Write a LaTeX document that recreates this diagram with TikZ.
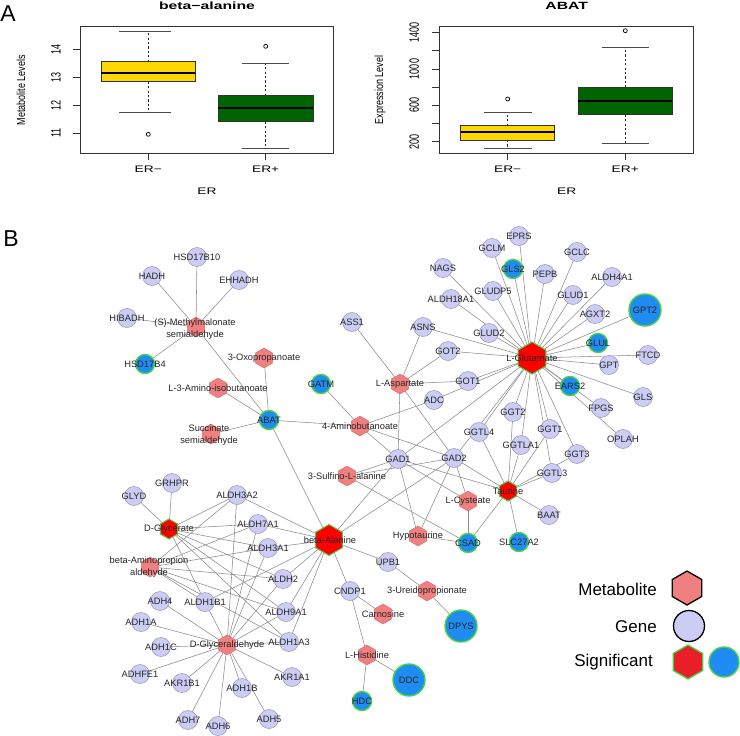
\documentclass[tikz,border=0pt]{standalone}
\usepackage{fontspec}
\setmainfont{Liberation Sans}
\usepackage{graphicx}
\usetikzlibrary{shapes.geometric}
\definecolor{genefill}{RGB}{204,204,245}
\definecolor{geneline}{RGB}{150,150,185}
\definecolor{sigblue}{RGB}{30,140,240}
\definecolor{siggreen}{RGB}{70,210,70}
\definecolor{metpink}{RGB}{240,128,128}
\definecolor{metline}{RGB}{215,110,110}
\definecolor{boxyellow}{RGB}{255,215,0}
\definecolor{boxgreen}{RGB}{0,100,0}
\definecolor{edgegray}{RGB}{140,140,140}
\definecolor{sigred}{RGB}{232,30,40}
\pgfdeclarelayer{bglayer}
\pgfdeclarelayer{edgelayer}
\pgfsetlayers{bglayer,edgelayer,main}
\tikzset{
  gene/.style={circle, fill=genefill, draw=geneline, line width=0.5pt, minimum size=19pt, inner sep=0pt},
  sgene/.style={circle, fill=sigblue, draw=siggreen, line width=1.4pt, minimum size=19pt, inner sep=0pt},
  bgene/.style={sgene, minimum size=32pt},
  met/.style={regular polygon, regular polygon sides=6, shape border rotate=30, fill=metpink, draw=metline, line width=0.4pt, minimum size=20pt, inner sep=0pt},
  smet/.style={met, fill=red, draw=siggreen, line width=1pt},
  bmet/.style={smet, minimum size=32pt},
  lbl/.style={font=\fontsize{9.3}{11.5}\selectfont, text=black!85, inner sep=0pt, align=center},
  netedge/.style={draw=edgegray, line width=0.55pt},
  frame/.style={draw=black!80, line width=0.8pt},
  tickln/.style={draw=black!80, line width=0.7pt},
  ticklbl/.style={font=\fontsize{9}{10}\selectfont, inner sep=0pt, rotate=90},
  axlbl/.style={font=\fontsize{9.5}{10}\selectfont, inner sep=0pt},
  whisk/.style={draw=black!85, line width=0.7pt, dash pattern=on 2.2pt off 2.2pt},
  capln/.style={draw=black!70, line width=0.8pt},
  boxln/.style={draw=black!80, line width=0.6pt},
  medln/.style={draw=black, line width=2pt},
  outl/.style={draw=black, line width=0.7pt},
  legtxt/.style={font=\fontsize{17}{18}\selectfont, inner sep=0pt, anchor=east},
  panel/.style={font=\fontsize{23}{24}\selectfont, inner sep=0pt}
}
\begin{document}
\begin{tikzpicture}[x=1pt,y=-1pt]
\begin{pgfonlayer}{bglayer}
\useasboundingbox[fill=white] (0,0) rectangle (740,736);
\end{pgfonlayer}

% ---------------- Panel A ----------------
\node[panel] (pA) at (8,14) {A};

% left plot
\node[font=\bfseries\fontsize{10.5}{12}\selectfont, inner sep=0pt] (t1) at (207,6) {\scalebox{1.5}[1]{beta−alanine}};
\draw[frame] (80,26) rectangle (333,153);
\foreach \v/\yy in {14/49.3,13/77.3,12/105.3,11/133.3}{
  \draw[tickln] (80,\yy) -- (73,\yy);
  \node[ticklbl] (ly\v) at (56,\yy) {\scalebox{1}[1.5]{\v}};
}
\node[ticklbl, font=\fontsize{9}{10}\selectfont] (ylab1) at (21,90) {\scalebox{1}[1.3]{Metabolite Levels}};
% ER- box
\draw[whisk] (148.3,61.7) -- (148.3,31);
\draw[whisk] (148.3,81.7) -- (148.3,112);
\draw[capln] (119,31) -- (171,31);
\draw[capln] (119,112) -- (171,112);
\draw[boxln, fill=boxyellow] (101,61.7) rectangle (195,81.7);
\draw[medln] (101,73.3) -- (195,73.3);
\draw[outl] (148.3,134.3) circle (2);
% ER+ box
\draw[whisk] (265.7,95.7) -- (265.7,63.3);
\draw[whisk] (265.7,121.7) -- (265.7,148.3);
\draw[capln] (242,63.3) -- (289,63.3);
\draw[capln] (242,148.3) -- (289,148.3);
\draw[boxln, fill=boxgreen] (218,95.7) rectangle (313,121.7);
\draw[medln] (218,107.7) -- (313,107.7);
\draw[outl] (265.7,46.3) circle (2);
\draw[tickln] (148.3,153) -- (148.3,160);
\draw[tickln] (265.7,153) -- (265.7,160);
\node[axlbl] (x1a) at (148.3,169) {\scalebox{1.45}[1]{ER−}};
\node[axlbl] (x1b) at (265.7,169) {\scalebox{1.45}[1]{ER+}};
\node[axlbl] (x1) at (207,191) {\scalebox{1.45}[1]{ER}};

% right plot
\node[font=\bfseries\fontsize{10.5}{12}\selectfont, inner sep=0pt] (t2) at (566.7,6) {\scalebox{1.5}[1]{ABAT}};
\draw[frame] (439.3,26) rectangle (693.3,153);
\foreach \yy in {141.7,123.5,105.3,87.2,69,50.8,32.7}{
  \draw[tickln] (439.3,\yy) -- (432.3,\yy);
}
\foreach \v/\yy in {200/141.7,600/105.3,1000/69,1400/32.7}{
  \node[ticklbl] (ry\v) at (414.3,\yy) {\scalebox{1}[1.5]{\v}};
}
\node[ticklbl, font=\fontsize{9}{10}\selectfont] (ylab2) at (380,90) {\scalebox{1}[1.3]{Expression Level}};
% ER- box
\draw[whisk] (507.7,125.7) -- (507.7,112.3);
\draw[whisk] (507.7,140) -- (507.7,148.3);
\draw[capln] (484,112.3) -- (531.7,112.3);
\draw[capln] (484,148.3) -- (531.7,148.3);
\draw[boxln, fill=boxyellow] (460.7,125.7) rectangle (554.7,140);
\draw[medln] (460.7,132.3) -- (554.7,132.3);
\draw[outl] (507.7,99) circle (2);
% ER+ box
\draw[whisk] (625.3,87.3) -- (625.3,47.7);
\draw[whisk] (625.3,114.7) -- (625.3,143.3);
\draw[capln] (601.7,47.7) -- (648.7,47.7);
\draw[capln] (601.7,143.3) -- (648.7,143.3);
\draw[boxln, fill=boxgreen] (578.3,87.3) rectangle (672.3,114.7);
\draw[medln] (578.3,100.7) -- (672.3,100.7);
\draw[outl] (625.3,30.7) circle (2);
\draw[tickln] (507.7,153) -- (507.7,160);
\draw[tickln] (625.3,153) -- (625.3,160);
\node[axlbl] (x2a) at (507.7,169) {\scalebox{1.45}[1]{ER−}};
\node[axlbl] (x2b) at (625.3,169) {\scalebox{1.45}[1]{ER+}};
\node[axlbl] (x2) at (566.7,191) {\scalebox{1.45}[1]{ER}};

% ---------------- Panel B ----------------
\node[panel] (pB) at (11,239) {B};

% genes
\foreach \n/\x/\y in {HSD17B10/197/257, HADH/152/276, EHHADH/239/280, HIBADH/127/318,
  EPRS/519/236, GCLM/492/248, GCLC/577/252, NAGS/443/268, PEPB/545/274, ALDH4A1/612/277,
  GLUDP5/493/291, GLUD1/573/295, ALDH18A1/451/299, AGXT2/595/314, ASS1/352/322, ASNS/423/327,
  GLUD2/489/333, GOT2/448/351, FTCD/648/355, GPT/609/365, GOT1/468/381, ADC/434/400,
  GLS/643/397, FPGS/601/408, GGT2/513/412, GGT1/550/429, GGTL4/479/432, OPLAH/623/439,
  GGTLA1/521/445, GAD1/398/459, GAD2/454/458, GGT3/577/454, GGTL3/552/473, BAAT/549/515,
  UPB1/388/562, CNDP1/350/591, GRHPR/172/483, GLYD/134/496, ALDH3A2/237/495, ALDH7A1/258/524,
  ALDH3A1/268/548, ALDH2/283/579, ADH4/160/601, ALDH1B1/205/602, ALDH9A1/286/612, ADH1A/141/622,
  ALDH1A3/289/642, ADH1C/161/647, ADHFE1/140/674, AKR1A1/292/677, AKR1B1/182/683, ADH1B/242/688,
  ADH7/188/720, ADH6/218/726, ADH5/269/719}
  \node[gene] (\n) at (\x,\y) {};
\foreach \n/\x/\y in {HSD17B4/145/364, ABAT/269/420, GATM/321/384, GLS2/513/269, GLUL/598/343,
  EARS2/570/386, CSAD/468/543, SLC27A2/519/542, HDC/362/701}
  \node[sgene] (\n) at (\x,\y) {};
\foreach \n/\x/\y in {GPT2/645/310, DPYS/461/626, DDC/409/680}
  \node[bgene] (\n) at (\x,\y) {};

% metabolites
\foreach \n/\x/\y in {SMS/196/327, OXO/264/358, AIB/218/388, SSA/211/434, GABA/360/426,
  ASP/400/384, SULF/347/476, CYST/468/501, HYPO/418/536, UREI/427/591, CARN/383/614,
  HIS/367/655, BAPA/150/567, DGLD/227/645}
  \node[met] (\n) at (\x,\y) {};
\node[smet] (DGLC) at (169,529) {};
\node[smet] (TAU) at (508,491) {};
\node[bmet] (GLU) at (532,358) {};
\node[bmet, minimum size=31pt] (BALA) at (329,540) {};

% edges
\begin{pgfonlayer}{edgelayer}
\foreach \a/\bs in {
  SMS/{HSD17B10,HADH,EHHADH,HIBADH,HSD17B4,ABAT},
  ABAT/{OXO,AIB,SSA,GABA,BALA},
  GATM/{GABA},
  GABA/{ADC,GAD1,GAD2},
  ADC/{GLU},
  ASP/{ASS1,ASNS,GOT2,GOT1,GAD1,GAD2},
  GLU/{EPRS,GCLM,GCLC,NAGS,GLS2,PEPB,ALDH4A1,GLUDP5,GLUD1,ALDH18A1,GPT2,AGXT2,ASNS,GLUD2,GLUL,GOT2,FTCD,GPT,GOT1,EARS2,GLS,FPGS,OPLAH,GGT2,GGT1,GGTL4,GGTLA1,GGT3,GGTL3,GAD1,GAD2},
  TAU/{GGT2,GGT1,GGTL4,GGTLA1,GGT3,GGTL3,GAD1,GAD2,BAAT,SLC27A2,CSAD},
  SULF/{GAD1,GAD2,CSAD},
  CYST/{GAD1,GAD2,CSAD},
  HYPO/{GAD1,GAD2,CSAD},
  BALA/{GAD1,GAD2,UPB1,CNDP1,ALDH3A2,ALDH7A1,ALDH3A1,ALDH2,ALDH9A1,ALDH1A3,ALDH1B1},
  UPB1/{UREI}, UREI/{DPYS},
  CNDP1/{CARN,HIS}, HIS/{DDC,HDC},
  DGLC/{GLYD,GRHPR,ALDH3A2,ALDH7A1,ALDH3A1,ALDH2,ALDH9A1,ALDH1A3,ALDH1B1},
  BAPA/{ALDH3A2,ALDH7A1,ALDH3A1,ALDH2,ALDH9A1,ALDH1A3,ALDH1B1},
  DGLD/{ADH4,ADH1A,ADH1C,ADHFE1,AKR1B1,ADH1B,ADH7,ADH6,ADH5,AKR1A1,ALDH1A3,ALDH9A1,ALDH2,ALDH3A1,ALDH7A1,ALDH3A2,ALDH1B1}}
  {\foreach \b in \bs {\draw[netedge] (\a.center) -- (\b.center);}}
\end{pgfonlayer}

% labels
\foreach \n in {HSD17B10, HADH, EHHADH, HIBADH, EPRS, GCLM, GCLC, NAGS, PEPB, ALDH4A1,
  GLUDP5, GLUD1, ALDH18A1, AGXT2, ASS1, ASNS, GLUD2, GOT2, FTCD, GPT, GOT1, ADC, GLS, FPGS,
  GGT2, GGT1, GGTL4, OPLAH, GGTLA1, GAD1, GAD2, GGT3, GGTL3, BAAT, UPB1, CNDP1, GRHPR, GLYD,
  ALDH3A2, ALDH7A1, ALDH3A1, ALDH2, ADH4, ALDH1B1, ALDH9A1, ADH1A, ALDH1A3, ADH1C, ADHFE1,
  AKR1A1, AKR1B1, ADH1B, ADH7, ADH6, ADH5, HSD17B4, ABAT, GATM, GLS2, GLUL, EARS2, CSAD,
  SLC27A2, HDC, GPT2, DPYS, DDC}
  \node[lbl] (l\n) at (\n) {\n};
\node[lbl] (lSMS) at (195,329) {(S)-Methylmalonate\\semialdehyde};
\node[lbl] (lOXO) at (OXO) {3-Oxopropanoate};
\node[lbl] (lAIB) at (AIB) {L-3-Amino-isobutanoate};
\node[lbl] (lSSA) at (209,435) {Succinate\\semialdehyde};
\node[lbl] (lGABA) at (GABA) {4-Aminobutanoate};
\node[lbl] (lASP) at (ASP) {L-Aspartate};
\node[lbl] (lSULF) at (SULF) {3-Sulfino-L-alanine};
\node[lbl] (lCYST) at (CYST) {L-Cysteate};
\node[lbl] (lHYPO) at (HYPO) {Hypotaurine};
\node[lbl] (lUREI) at (UREI) {3-Ureidopropionate};
\node[lbl] (lCARN) at (CARN) {Carnosine};
\node[lbl] (lHIS) at (HIS) {L-Histidine};
\node[lbl] (lBAPA) at (149,567) {beta-Aminopropion\\aldehyde};
\node[lbl] (lDGLD) at (DGLD) {D-Glyceraldehyde};
\node[lbl] (lDGLC) at (DGLC) {D-Glycerate};
\node[lbl] (lTAU) at (TAU) {Taurine};
\node[lbl] (lGLU) at (GLU) {L-Glutamate};
\node[lbl] (lBALA) at (330,540) {beta-Alanine};

% legend
\node[legtxt] (legM) at (657,589) {Metabolite};
\node[legtxt] (legG) at (657,627) {Gene};
\node[legtxt] (legS) at (653,662) {Significant};
\node[met, draw=black, line width=1.3pt, minimum size=34pt] (legMet) at (687,588) {};
\node[gene, draw=black, line width=1.3pt, minimum size=31pt] (legGene) at (689,626) {};
\node[met, fill=sigred, draw=siggreen, line width=1.3pt, minimum size=34pt] (legSM) at (688,662) {};
\node[sgene, line width=1.4pt, minimum size=30pt] (legSG) at (724,662) {};
\end{tikzpicture}
\end{document}
